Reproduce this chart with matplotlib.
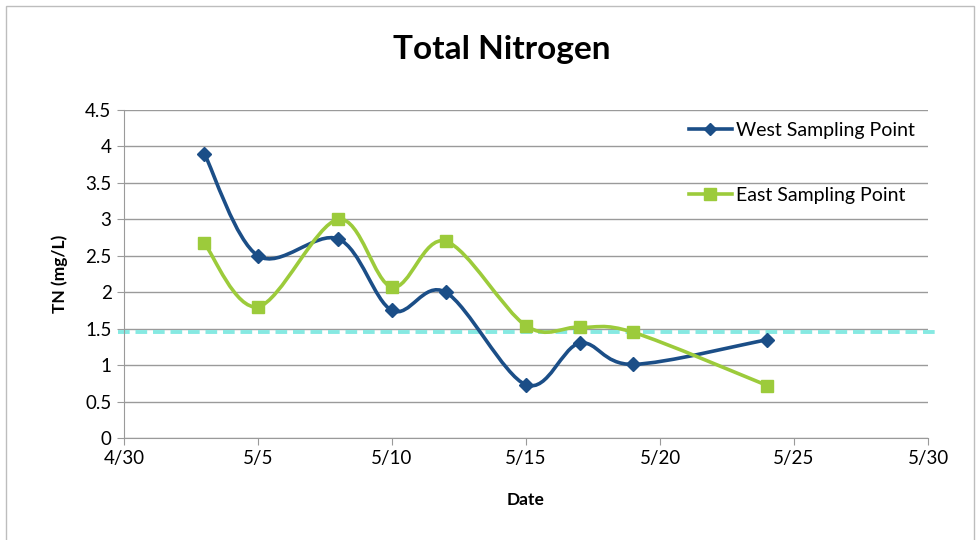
import numpy as np
import pandas as pd
import matplotlib
matplotlib.use("Agg")
import matplotlib.pyplot as plt
import matplotlib.dates as mdates
from matplotlib.path import Path
from matplotlib.patches import PathPatch, Rectangle
from matplotlib.ticker import FuncFormatter

# data
dates = ["2013-05-03", "2013-05-05", "2013-05-08", "2013-05-10", "2013-05-12",
         "2013-05-15", "2013-05-17", "2013-05-19", "2013-05-24"]
west = [3.9, 2.5, 2.73, 1.75, 2.0, 0.73, 1.3, 1.01, 1.35]
east = [2.67, 1.8, 3.0, 2.07, 2.7, 1.54, 1.52, 1.45, 0.72]
limit = 1.45
x_start, x_end = "2013-04-30", "2013-05-30"

plt.rcParams['font.family'] = ['Lato', 'DejaVu Sans']

west_color = "#1B4E87"
east_color = "#9CCB3B"


def smooth_path(x, y):
    # Excel-style smoothed line: cubic Bezier through the points
    pts = np.column_stack([x, y])
    n = len(pts)
    verts = [pts[0]]
    codes = [Path.MOVETO]
    for i in range(n - 1):
        p0 = pts[i - 1] if i > 0 else pts[i]
        p1 = pts[i]
        p2 = pts[i + 1]
        p3 = pts[i + 2] if i + 2 < n else pts[i + 1]
        c1 = p1 + (p2 - p0) / 6
        c2 = p2 - (p3 - p1) / 6
        verts += [c1, c2, p2]
        codes += [Path.CURVE4] * 3
    return Path(verts, codes)


x = mdates.date2num(pd.to_datetime(dates))

fig = plt.figure(figsize=(9.78, 5.4), dpi=100)
ax = fig.add_axes([0.1268, 0.1889, 0.8221, 0.6074])

ax.add_patch(PathPatch(smooth_path(x, np.array(west)), fill=False,
                       edgecolor=west_color, lw=2.6, zorder=3))
ax.add_patch(PathPatch(smooth_path(x, np.array(east)), fill=False,
                       edgecolor=east_color, lw=2.6, zorder=3))
ax.plot(x, west, ls="none", marker="D", ms=7, color=west_color, zorder=5)
ax.plot(x, east, ls="none", marker="s", ms=9, color=east_color, zorder=4)

# legend proxies
ax.plot([], [], color=west_color, lw=2.6, marker="D", ms=6, label="West Sampling Point")
ax.plot([], [], color=east_color, lw=2.6, marker="s", ms=8, label="East Sampling Point")

ax.axhline(limit, xmin=-0.008, xmax=1.009, color="#86E9E2", lw=2.8,
           ls=(0, (3, 1.5)), clip_on=False, zorder=2)

ax.set_xlim(mdates.date2num(pd.Timestamp(x_start)), mdates.date2num(pd.Timestamp(x_end)))
ax.set_ylim(0, 4.5)
ax.set_xticks(mdates.date2num(pd.date_range(x_start, x_end, freq="5D")))
ax.xaxis.set_major_formatter(FuncFormatter(
    lambda v, p: f"{mdates.num2date(v).month}/{mdates.num2date(v).day}"))
ax.set_yticks(np.arange(0, 4.51, 0.5))
ax.yaxis.set_major_formatter(FuncFormatter(lambda v, p: f"{v:g}"))

ax.grid(axis="y", color="#9A9A9A", lw=1)
ax.set_axisbelow(True)
for s in ["top", "right"]:
    ax.spines[s].set_visible(False)
for s in ["left", "bottom"]:
    ax.spines[s].set_color("#9A9A9A")
ax.tick_params(direction="out", length=5, color="#9A9A9A", labelsize=13.5, pad=4)

ax.set_xlabel("Date", fontsize=12.5, fontweight="bold", labelpad=18)
ax.set_ylabel("TN (mg/L)", fontsize=12.5, fontweight="bold", labelpad=12)
fig.text(0.513, 0.909, "Total Nitrogen", ha="center", va="center",
         fontsize=24, fontweight="bold")

ax.legend(loc="upper right", bbox_to_anchor=(1.006, 1.016), frameon=False,
          fontsize=14, labelspacing=2.45, handlelength=2.2, handletextpad=0.25)

fig.patches.append(Rectangle((6 / 978, -0.01), 968 / 978, 1 - 6 / 540 + 0.01,
                             transform=fig.transFigure, fill=False,
                             edgecolor="#BDBDBD", lw=1))

fig.savefig("out.png", dpi=100)
